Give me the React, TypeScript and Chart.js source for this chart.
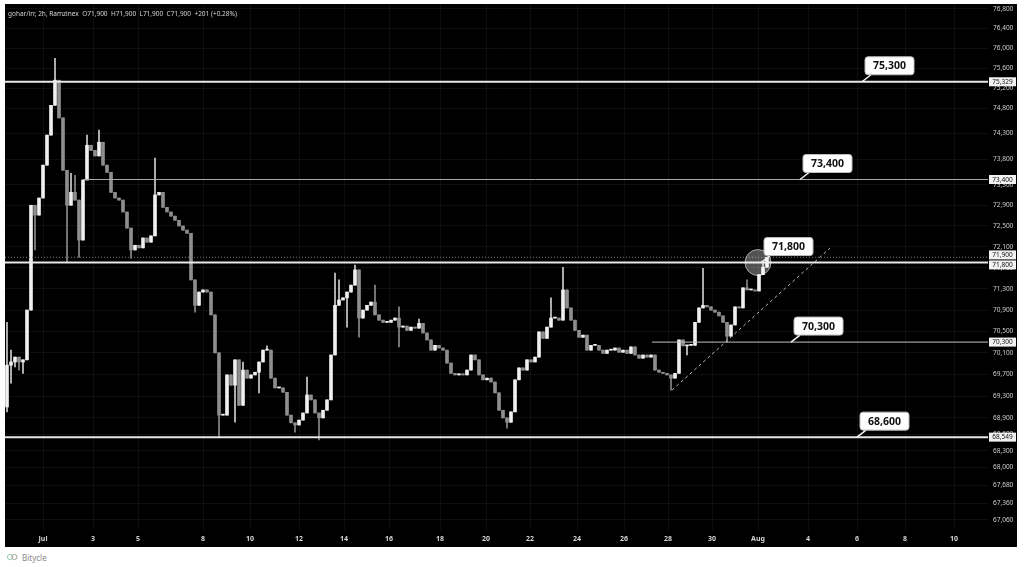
import React, { useEffect, useRef } from 'react';
import { Chart, registerables } from 'chart.js';
Chart.register(...registerables);

// ---------- data ----------
const titleText = 'gohar/irr, 2h, Ramzinex  O71,900  H71,900  L71,900  C71,900  +201 (+0.28%)';

const firstOpen = 69100;
const closes = [
  69870, 69930, 70020, 69930, 69970, 70900, 72900, 72710, 73040, 73680,
  74270, 74860, 75360, 74610, 73580, 72900, 73150, 73000, 72230, 73390,
  74070, 73970, 73860, 74130, 73680, 73540, 73150, 73040, 73000, 72770,
  72460, 72040, 72130, 72080, 72270, 72190, 72310, 73100, 73150, 72860,
  72770, 72690, 72610, 72500, 72420, 72360, 71470, 70990, 71240, 71280,
  71240, 70810, 70100, 68950, 68950, 69690, 69500, 69970, 69130, 69780,
  69630, 69690, 69740, 69930, 70150, 70150, 69630, 69450, 69450, 69370,
  68950, 68810, 68770, 68860, 68990, 69320, 69230, 68990, 68900, 69040,
  69230, 70060, 70990, 71090, 71130, 71240, 71370, 71660, 70750, 70900,
  70990, 71050, 70810, 70710, 70670, 70670, 70710, 70750, 70580, 70600,
  70520, 70580, 70560, 70650, 70470, 70340, 70150, 70240, 70190, 70150,
  69910, 69720, 69690, 69710, 69690, 69780, 70060, 69970, 69690, 69600,
  69630, 69560, 69360, 69040, 68900, 68820, 69010, 69600, 69820, 69780,
  69970, 69930, 70020, 70490, 70370, 70580, 70750, 70750, 70710, 71280,
  70940, 70710, 70520, 70390, 70430, 70150, 70240, 70240, 70150, 70090,
  70150, 70150, 70190, 70110, 70150, 70090, 70210, 70060, 70000, 70060,
  70020, 70060, 69780, 69740, 69720, 69690, 69630, 69720, 70340, 70230,
  70240, 70240, 70670, 70940, 70990, 70960, 70900, 70860, 70790, 70670,
  70410, 70620, 70960, 70940, 71320, 71280, 71280, 71260, 71570, 71710,
  71900,
];

const wickHighs: [number, number][] = [
  [0, 70670], [1, 70150], [12, 75800], [16, 73520], [17, 73480], [20, 74270],
  [23, 74370], [37, 73820], [59, 69930], [65, 70230], [75, 69650], [82, 71600],
  [83, 71470], [87, 71750], [92, 71370], [98, 70960], [103, 70730], [136, 71130],
  [139, 71710], [174, 71690], [185, 71470], [189, 71790],
];
const wickLows: [number, number][] = [
  [0, 69010], [1, 69540], [2, 69840], [3, 69780], [4, 69720], [7, 72040],
  [15, 71810], [18, 71900], [31, 71880], [47, 70860], [53, 68550], [57, 68820],
  [63, 69360], [72, 68640], [78, 68500], [85, 70580], [88, 70390], [98, 70210],
  [125, 68710], [166, 69410], [170, 70060], [180, 70300],
];

const xTickLabels = ['Jul', '3', '5', '8', '10', '12', '14', '16', '18', '20', '22', '24', '26', '28', '30', 'Aug', '4', '6', '8', '10'];
const xTickPositions = [9, 21.5, 32.75, 49, 60.75, 73, 84.25, 95.5, 108.25, 119.75, 130.75, 142.5, 154.25, 165.25, 176.25, 187.75, 200.25, 212.5, 224.5, 236.75];

const yTickValues = [76800, 76400, 76000, 75600, 75200, 74800, 74300, 73800, 73300, 72900, 72500, 72100, 71700, 71300, 70900, 70500, 70100, 69700, 69300, 68900, 68600, 68300, 68000, 67680, 67360, 67060];

const levelValues = [75329, 73400, 71900, 71800, 70300, 68549];
const levelStarts = [-0.5, 19, -0.5, -0.5, 161.25, -0.5];

const trendX = [166.25, 205.75];
const trendY = [69410, 72075];

const calloutTexts = ['75,300', '73,400', '71,800', '70,300', '68,600'];
const calloutX = [213.75, 198.25, 188.5, 196, 212.5];
const calloutY = [75329, 73400, 71800, 70300, 68549];

const circleX = 187.75;
const circleY = 71800;

const axisMarks = [75329, 73400, 71900, 71800, 70300, 68549];

const X_MIN = -0.5;
const X_MAX = 245.25;
const Y_MIN = 66880;
const Y_MAX = 76900;

// ---------- styles ----------
const levelStyles = [
  { color: '#e8e8e8', width: 2, dash: [] as number[] },
  { color: '#a8a8a8', width: 1, dash: [] as number[] },
  { color: '#7a7a7a', width: 1, dash: [1, 2] },
  { color: '#e8e8e8', width: 2, dash: [] as number[] },
  { color: '#c0c0c0', width: 1, dash: [] as number[] },
  { color: '#e8e8e8', width: 2, dash: [] as number[] },
];

const fmt = (v: number) => Number(v).toLocaleString('en-US');

function buildCandles() {
  const hi = new Map(wickHighs);
  const lo = new Map(wickLows);
  const bodies: any[] = [];
  const wicks: any[] = [];
  const bodyColors: string[] = [];
  const wickColors: string[] = [];
  let prev = firstOpen;
  closes.forEach((c, i) => {
    const o = prev;
    const h = hi.has(i) ? (hi.get(i) as number) : Math.max(o, c);
    const l = lo.has(i) ? (lo.get(i) as number) : Math.min(o, c);
    bodies.push({ x: i, y: [o, c] });
    wicks.push({ x: i, y: [l, h] });
    const up = c >= o;
    bodyColors.push(up ? '#f0f0f0' : '#8e8e8e');
    wickColors.push(up ? '#cfcfcf' : '#8a8a8a');
    prev = c;
  });
  return { bodies, wicks, bodyColors, wickColors };
}

function roundRect(ctx: CanvasRenderingContext2D, x: number, y: number, w: number, h: number, r: number) {
  ctx.beginPath();
  ctx.moveTo(x + r, y);
  ctx.lineTo(x + w - r, y);
  ctx.quadraticCurveTo(x + w, y, x + w, y + r);
  ctx.lineTo(x + w, y + h - r);
  ctx.quadraticCurveTo(x + w, y + h, x + w - r, y + h);
  ctx.lineTo(x + r, y + h);
  ctx.quadraticCurveTo(x, y + h, x, y + h - r);
  ctx.lineTo(x, y + r);
  ctx.quadraticCurveTo(x, y, x + r, y);
  ctx.closePath();
}

const overlayPlugin = {
  id: 'overlay',
  afterDatasetsDraw(chart: any) {
    const { ctx, scales } = chart;
    const x = scales.x;
    const y = scales.y;
    ctx.save();
    // circle highlight
    const cx = x.getPixelForValue(circleX);
    const cy = y.getPixelForValue(circleY);
    ctx.beginPath();
    ctx.arc(cx, cy, 13, 0, Math.PI * 2);
    ctx.fillStyle = 'rgba(255,255,255,0.32)';
    ctx.fill();
    ctx.strokeStyle = 'rgba(255,255,255,0.55)';
    ctx.lineWidth = 1;
    ctx.stroke();
    // callouts
    calloutTexts.forEach((t, i) => {
      const ax = x.getPixelForValue(calloutX[i]);
      const ay = y.getPixelForValue(calloutY[i]);
      const bw = 49;
      const bh = 18;
      const bx = ax + 3;
      const by = ay - 7 - bh;
      ctx.strokeStyle = '#f2f2f2';
      ctx.lineWidth = 1.5;
      ctx.beginPath();
      ctx.moveTo(ax, ay);
      ctx.lineTo(bx + 6, by + bh);
      ctx.stroke();
      roundRect(ctx, bx, by, bw, bh, 3);
      ctx.fillStyle = '#ffffff';
      ctx.fill();
      ctx.strokeStyle = '#bdbdbd';
      ctx.lineWidth = 1;
      ctx.stroke();
      ctx.fillStyle = '#111111';
      ctx.font = 'bold 10.5px "Noto Sans", sans-serif';
      ctx.textAlign = 'center';
      ctx.textBaseline = 'middle';
      ctx.fillText(t, bx + bw / 2, by + bh / 2 + 0.5);
    });
    ctx.restore();
  },
  afterDraw(chart: any) {
    const { ctx, scales, chartArea } = chart;
    const y = scales.y;
    ctx.save();
    // title
    ctx.fillStyle = '#d4d4d4';
    ctx.font = '6.5px "Noto Sans", sans-serif';
    ctx.textAlign = 'left';
    ctx.textBaseline = 'middle';
    ctx.fillText(titleText, 3, 10);
    // axis price boxes
    const marks = axisMarks.map(v => ({ v, p: y.getPixelForValue(v) })).sort((a, b) => a.p - b.p);
    for (let k = 1; k < marks.length; k++) {
      const gap = marks[k].p - marks[k - 1].p;
      if (gap < 10) {
        const mid = (marks[k].p + marks[k - 1].p) / 2;
        marks[k - 1].p = mid - 5;
        marks[k].p = mid + 5;
      }
    }
    marks.forEach(m => {
      const bx = chartArea.right + 1;
      ctx.fillStyle = '#f2f2f2';
      ctx.fillRect(bx, m.p - 4.5, 27, 9);
      ctx.fillStyle = '#111111';
      ctx.font = '6.5px "Noto Sans", sans-serif';
      ctx.textAlign = 'center';
      ctx.textBaseline = 'middle';
      ctx.fillText(fmt(m.v), bx + 13.5, m.p + 0.3);
    });
    ctx.restore();
  },
};

export default function App() {
  const ref = useRef<HTMLCanvasElement | null>(null);
  useEffect(() => {
    if (!ref.current) return;
    const { bodies, wicks, bodyColors, wickColors } = buildCandles();
    const lineSets: any[] = levelValues.map((v, i) => ({
      type: 'line',
      data: [{ x: levelStarts[i], y: v }, { x: X_MAX, y: v }],
      borderColor: levelStyles[i].color,
      borderWidth: levelStyles[i].width,
      borderDash: levelStyles[i].dash,
      pointRadius: 0,
      fill: false,
      order: 0,
    }));
    lineSets.push({
      type: 'line',
      data: [{ x: trendX[0], y: trendY[0] }, { x: trendX[1], y: trendY[1] }],
      borderColor: '#bcbcbc',
      borderWidth: 1,
      borderDash: [3, 3],
      pointRadius: 0,
      fill: false,
      order: 0,
    });
    const gridColor = 'rgba(255,255,255,0.055)';
    const chart = new Chart(ref.current, {
      type: 'bar',
      data: {
        datasets: [
          ...lineSets,
          {
            type: 'bar',
            data: wicks,
            backgroundColor: wickColors,
            barThickness: 1,
            grouped: false,
            borderWidth: 0,
            borderSkipped: false,
            order: 2,
          },
          {
            type: 'bar',
            data: bodies,
            backgroundColor: bodyColors,
            barThickness: 3,
            grouped: false,
            minBarLength: 1,
            borderWidth: 0,
            borderSkipped: false,
            order: 1,
          },
        ],
      } as any,
      options: {
        animation: false,
        responsive: true,
        maintainAspectRatio: false,
        layout: { padding: 0 },
        events: [],
        plugins: { legend: { display: false }, tooltip: { enabled: false } },
        scales: {
          x: {
            type: 'linear',
            min: X_MIN,
            max: X_MAX,
            offset: false,
            grid: { color: gridColor, drawTicks: false, offset: false },
            border: { display: false },
            ticks: {
              autoSkip: false,
              maxRotation: 0,
              color: '#d4d4d4',
              font: { size: 7, family: '"Noto Sans", sans-serif', weight: 'bold' },
              padding: 5,
              callback: (v: any) => {
                const k = xTickPositions.indexOf(Number(v));
                return k >= 0 ? xTickLabels[k] : '';
              },
            },
            afterBuildTicks: (s: any) => {
              s.ticks = xTickPositions.map(v => ({ value: v }));
            },
            afterFit: (s: any) => {
              s.height = 17;
              s.paddingLeft = 0;
              s.paddingRight = 0;
            },
          },
          y: {
            type: 'logarithmic',
            position: 'right',
            min: Y_MIN,
            max: Y_MAX,
            grid: { color: gridColor, drawTicks: false },
            border: { display: false },
            ticks: {
              autoSkip: false,
              color: '#cfcfcf',
              font: { size: 6.5, family: '"Noto Sans", sans-serif' },
              padding: 5,
              callback: (v: any) => fmt(Number(v)),
            },
            afterBuildTicks: (s: any) => {
              s.ticks = yTickValues.map(v => ({ value: v }));
            },
            afterFit: (s: any) => {
              s.width = 29;
              s.paddingTop = 0;
              s.paddingBottom = 0;
            },
          },
        },
      } as any,
      plugins: [overlayPlugin],
    });
    return () => chart.destroy();
  }, []);

  return (
    <div style={{ position: 'fixed', left: 0, top: 0, width: 1024, height: 567, background: '#ffffff', overflow: 'hidden' }}>
      <div style={{ position: 'absolute', left: 5, top: 4, width: 1012, height: 543, background: '#000000' }}>
        <canvas ref={ref} />
      </div>
      <div style={{ position: 'absolute', left: 6, top: 551, height: 12, display: 'flex', alignItems: 'center', gap: 3, fontFamily: '"Noto Sans", sans-serif', fontSize: 8, color: '#8a8a8a' }}>
        <svg width="13" height="8" viewBox="0 0 13 8">
          <circle cx="4" cy="4" r="2.6" fill="none" stroke="#9ad0b0" strokeWidth="1" />
          <circle cx="8.5" cy="4" r="2.6" fill="none" stroke="#a0a0a0" strokeWidth="1" />
        </svg>
        <span>Bitycle</span>
      </div>
    </div>
  );
}
